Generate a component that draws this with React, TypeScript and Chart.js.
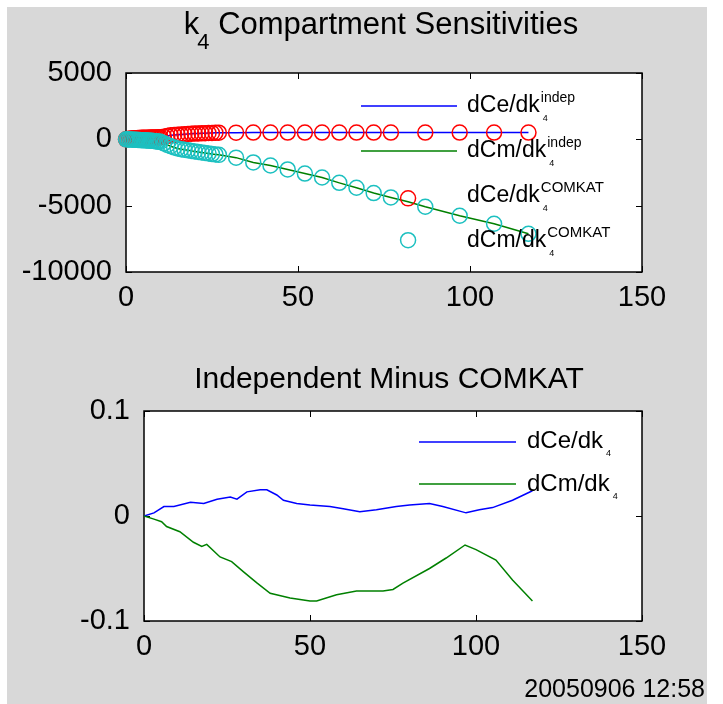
import React, { useEffect, useRef } from "react";
import { Chart, registerables } from "chart.js";

Chart.register(...registerables);

const FONT = '"Liberation Sans", Arial, Helvetica, sans-serif';

// ---------- Top chart data (k4 compartment sensitivities) ----------
const sampleTimes = [
  0, 0.5, 1, 1.5, 2, 2.5, 3, 3.5, 4, 4.5, 5, 5.5, 6, 6.5, 7, 7.5, 8, 8.5, 9, 9.5,
  10, 11, 12, 13, 14, 15, 16, 17, 18, 19, 20, 21, 22, 23, 24, 25, 26, 27,
  32, 37, 42, 47, 52, 57, 62, 67, 72, 77, 82, 87, 97, 107, 117,
];
const dCeIndep = [
  0, 20, 40, 55, 70, 80, 90, 100, 105, 110, 115, 120, 125, 128, 130, 133, 136, 140, 145, 150,
  155, 200, 250, 300, 330, 350, 370, 390, 410, 425, 435, 445, 455, 465, 475, 480, 490, 500,
  505, 508, 510, 510, 510, 510, 510, 510, 510, 510, 510, 510, 510, 510, 510,
];
const dCmIndep = [
  0, -5, -10, -18, -25, -33, -40, -48, -55, -63, -70, -78, -86, -95, -105, -115, -125, -140, -155, -170,
  -190, -300, -420, -520, -610, -690, -740, -790, -830, -870, -910, -950, -990, -1030, -1070, -1110, -1140, -1170,
  -1380, -1740, -1970, -2270, -2580, -2880, -3280, -3650, -4050, -4380, -4700, -5080, -5760, -6360, -7120,
];
const dCeComkat = [
  0, 20, 40, 55, 70, 80, 90, 100, 105, 110, 115, 120, 125, 128, 130, 133, 136, 140, 145, 150,
  155, 200, 250, 300, 330, 350, 370, 390, 410, 425, 435, 445, 455, 465, 475, 480, 490, 500,
  505, 508, 510, 510, 510, 510, 510, 510, 510, 510, -4450, 510, 510, 510, 510,
];
const dCmComkat = [
  0, -5, -10, -18, -25, -33, -40, -48, -55, -63, -70, -78, -86, -95, -105, -115, -125, -140, -155, -170,
  -190, -300, -420, -520, -610, -690, -740, -790, -830, -870, -910, -950, -990, -1030, -1070, -1110, -1140, -1170,
  -1380, -1740, -1970, -2270, -2580, -2880, -3280, -3650, -4050, -4380, -7600, -5080, -5760, -6360, -7120,
];
const topXTicks = [0, 50, 100, 150];
const topYTicks = [-10000, -5000, 0, 5000];

// ---------- Bottom chart data (Independent minus COMKAT) ----------
const diffCeTimes = [0, 3, 6, 9, 14, 18, 22, 26, 28, 31, 35, 37, 40, 42, 46, 50, 56, 60, 65, 70, 76, 80, 86, 90, 97, 101, 105, 111, 117];
const diffCe = [0, 0.003, 0.009, 0.009, 0.013, 0.012, 0.016, 0.018, 0.016, 0.023, 0.025, 0.025, 0.02, 0.015, 0.012, 0.0105, 0.009, 0.007, 0.004, 0.006, 0.009, 0.0105, 0.012, 0.009, 0.003, 0.006, 0.008, 0.015, 0.024];
const diffCmTimes = [0, 3, 5.3, 6.8, 10.8, 14.9, 17.4, 18.9, 22.9, 26.4, 29.9, 33.9, 38, 44, 50, 52, 58, 64, 72, 75, 78, 86, 91, 96.7, 100, 106, 111, 117];
const diffCm = [0, -0.003, -0.0054, -0.010, -0.015, -0.025, -0.029, -0.027, -0.039, -0.0435, -0.053, -0.0635, -0.0736, -0.078, -0.081, -0.081, -0.075, -0.0714, -0.0714, -0.070, -0.064, -0.050, -0.040, -0.0276, -0.032, -0.042, -0.061, -0.081];
const bottomXTicks = [0, 50, 100, 150];
const bottomYTicks = [-0.1, 0, 0.1];

const timestamp = "20050906 12:58";

const toPoints = (xs: number[], ys: number[]) => xs.map((x, i) => ({ x, y: ys[i] }));

function drawRich(
  ctx: CanvasRenderingContext2D,
  x: number,
  y: number,
  base: string,
  baseSize: number,
  sub: string,
  subSize: number,
  sup: string,
  supSize: number
) {
  ctx.save();
  ctx.fillStyle = "#000";
  ctx.textBaseline = "middle";
  ctx.textAlign = "left";
  ctx.font = `${baseSize}px ${FONT}`;
  ctx.fillText(base, x, y);
  const w = ctx.measureText(base).width;
  if (sup) {
    ctx.font = `${supSize}px ${FONT}`;
    ctx.fillText(sup, x + w + 1, y - 8);
  }
  if (sub) {
    ctx.font = `${subSize}px ${FONT}`;
    ctx.fillText(sub, x + w + 3, y + 13);
  }
  ctx.restore();
}

function axesBoxPlugin(id: string) {
  return {
    id,
    beforeDraw(chart: any) {
      const { ctx, chartArea: a } = chart;
      ctx.save();
      ctx.fillStyle = "#ffffff";
      ctx.fillRect(a.left, a.top, a.right - a.left, a.bottom - a.top);
      ctx.restore();
    },
    beforeDatasetsDraw(chart: any) {
      const { ctx, chartArea: a, scales } = chart;
      ctx.save();
      ctx.strokeStyle = "#000";
      ctx.lineWidth = 1.5;
      ctx.strokeRect(a.left, a.top, a.right - a.left, a.bottom - a.top);
      const tl = 6;
      ctx.lineWidth = 1;
      ctx.beginPath();
      scales.x.ticks.forEach((t: any) => {
        const px = Math.round(scales.x.getPixelForValue(t.value)) + 0.5;
        ctx.moveTo(px, a.bottom);
        ctx.lineTo(px, a.bottom - tl);
        ctx.moveTo(px, a.top);
        ctx.lineTo(px, a.top + tl);
      });
      scales.y.ticks.forEach((t: any) => {
        const py = Math.round(scales.y.getPixelForValue(t.value)) + 0.5;
        ctx.moveTo(a.left, py);
        ctx.lineTo(a.left + tl, py);
        ctx.moveTo(a.right, py);
        ctx.lineTo(a.right - tl, py);
      });
      ctx.stroke();
      ctx.restore();
    },
  };
}

const tickFont = { family: FONT, size: 29 };
const fmt = (v: any) => String(Number(Number(v).toFixed(4)));

function makeScales(xTicks: number[], yTicks: number[], yWidth: number) {
  return {
    x: {
      type: "linear" as const,
      min: xTicks[0],
      max: xTicks[xTicks.length - 1],
      afterBuildTicks: (s: any) => {
        s.ticks = xTicks.map((v) => ({ value: v }));
      },
      afterFit: (s: any) => {
        s.height = 40;
      },
      grid: { display: false, drawTicks: false },
      border: { display: false },
      ticks: { color: "#000", font: tickFont, padding: 9, maxRotation: 0, callback: fmt },
    },
    y: {
      type: "linear" as const,
      min: yTicks[0],
      max: yTicks[yTicks.length - 1],
      afterBuildTicks: (s: any) => {
        s.ticks = yTicks.map((v) => ({ value: v }));
      },
      afterFit: (s: any) => {
        s.width = yWidth;
      },
      grid: { display: false, drawTicks: false },
      border: { display: false },
      ticks: { color: "#000", font: tickFont, padding: 14, callback: fmt },
    },
  };
}

export default function App() {
  const topRef = useRef<HTMLCanvasElement>(null);
  const botRef = useRef<HTMLCanvasElement>(null);

  useEffect(() => {
    const topDecor = {
      id: "topDecor",
      afterDraw(chart: any) {
        const { ctx, chartArea: a } = chart;
        // title
        ctx.save();
        ctx.fillStyle = "#000";
        ctx.textBaseline = "alphabetic";
        ctx.textAlign = "left";
        ctx.font = `31px ${FONT}`;
        const kW = ctx.measureText("k").width;
        const rest = " Compartment Sensitivities";
        const rW = ctx.measureText(rest).width;
        ctx.font = `22px ${FONT}`;
        const sW = ctx.measureText("4").width;
        const total = kW + sW - 2 + rW;
        const x0 = (a.left + a.right) / 2 - 3 - total / 2;
        const base = 27;
        ctx.font = `31px ${FONT}`;
        ctx.fillText("k", x0, base);
        ctx.font = `22px ${FONT}`;
        ctx.fillText("4", x0 + kW - 2, base + 15);
        ctx.font = `31px ${FONT}`;
        ctx.fillText(rest, x0 + kW + sW - 2, base);
        // legend
        const lx0 = a.left + 235;
        const lx1 = a.left + 331;
        const tx = a.left + 341;
        ctx.lineWidth = 1.5;
        ctx.strokeStyle = "#0000ff";
        ctx.beginPath();
        ctx.moveTo(lx0, a.top + 33);
        ctx.lineTo(lx1, a.top + 33);
        ctx.stroke();
        ctx.strokeStyle = "#008000";
        ctx.beginPath();
        ctx.moveTo(lx0, a.top + 78);
        ctx.lineTo(lx1, a.top + 78);
        ctx.stroke();
        ctx.restore();
        drawRich(ctx, tx, a.top + 33, "dCe/dk", 23, "4", 9, "indep", 14);
        drawRich(ctx, tx, a.top + 78, "dCm/dk", 23, "4", 9, "indep", 14);
        drawRich(ctx, tx, a.top + 123, "dCe/dk", 23, "4", 9, "COMKAT", 15);
        drawRich(ctx, tx, a.top + 168, "dCm/dk", 23, "4", 9, "COMKAT", 15);
      },
    };

    const botDecor = {
      id: "botDecor",
      afterDraw(chart: any) {
        const { ctx, chartArea: a, width } = chart;
        ctx.save();
        ctx.fillStyle = "#000";
        ctx.textBaseline = "alphabetic";
        ctx.textAlign = "center";
        ctx.font = `30px ${FONT}`;
        ctx.fillText("Independent Minus COMKAT", (a.left + a.right) / 2 - 4, 48);
        // legend
        const lx0 = a.left + 275;
        const lx1 = a.left + 372;
        const tx = a.left + 383;
        ctx.lineWidth = 1.5;
        ctx.strokeStyle = "#0000ff";
        ctx.beginPath();
        ctx.moveTo(lx0, a.top + 31);
        ctx.lineTo(lx1, a.top + 31);
        ctx.stroke();
        ctx.strokeStyle = "#008000";
        ctx.beginPath();
        ctx.moveTo(lx0, a.top + 73);
        ctx.lineTo(lx1, a.top + 73);
        ctx.stroke();
        // timestamp
        ctx.textAlign = "right";
        ctx.textBaseline = "middle";
        ctx.font = `25px ${FONT}`;
        ctx.fillText(timestamp, width - 2, 350);
        ctx.restore();
        drawRich(ctx, tx, a.top + 30, "dCe/dk", 24, "4", 9, "", 14);
        drawRich(ctx, tx, a.top + 73, "dCm/dk", 24, "4", 9, "", 14);
      },
    };

    const top = new Chart(topRef.current!, {
      type: "scatter",
      data: {
        datasets: [
          {
            label: "dCe/dk4 indep",
            data: toPoints(sampleTimes, dCeIndep),
            showLine: true,
            borderColor: "#0000ff",
            borderWidth: 1.5,
            pointRadius: 0,
            order: 4,
          },
          {
            label: "dCm/dk4 indep",
            data: toPoints(sampleTimes, dCmIndep),
            showLine: true,
            borderColor: "#008000",
            borderWidth: 1.5,
            pointRadius: 0,
            order: 3,
          },
          {
            label: "dCe/dk4 COMKAT",
            data: toPoints(sampleTimes, dCeComkat),
            showLine: false,
            pointRadius: 7.5,
            pointBorderWidth: 1.5,
            pointBorderColor: "#ff0000",
            pointBackgroundColor: "rgba(0,0,0,0)",
            clip: false as any,
            order: 2,
          },
          {
            label: "dCm/dk4 COMKAT",
            data: toPoints(sampleTimes, dCmComkat),
            showLine: false,
            pointRadius: 7.5,
            pointBorderWidth: 1.5,
            pointBorderColor: "#1cc0c0",
            pointBackgroundColor: "rgba(0,0,0,0)",
            clip: false as any,
            order: 1,
          },
        ],
      },
      options: {
        responsive: false,
        animation: false,
        devicePixelRatio: 1,
        layout: { padding: { left: 0, top: 66, right: 65, bottom: 28 } },
        plugins: { legend: { display: false }, tooltip: { enabled: false }, title: { display: false } },
        scales: makeScales(topXTicks, topYTicks, 119) as any,
      },
      plugins: [axesBoxPlugin("topBox"), topDecor],
    });

    const bot = new Chart(botRef.current!, {
      type: "scatter",
      data: {
        datasets: [
          {
            label: "dCe/dk4",
            data: toPoints(diffCeTimes, diffCe),
            showLine: true,
            borderColor: "#0000ff",
            borderWidth: 1.5,
            pointRadius: 0,
            order: 2,
          },
          {
            label: "dCm/dk4",
            data: toPoints(diffCmTimes, diffCm),
            showLine: true,
            borderColor: "#008000",
            borderWidth: 1.5,
            pointRadius: 0,
            order: 1,
          },
        ],
      },
      options: {
        responsive: false,
        animation: false,
        devicePixelRatio: 1,
        layout: { padding: { left: 0, top: 71, right: 65, bottom: 43 } },
        plugins: { legend: { display: false }, tooltip: { enabled: false }, title: { display: false } },
        scales: makeScales(bottomXTicks, bottomYTicks, 137) as any,
      },
      plugins: [axesBoxPlugin("botBox"), botDecor],
    });

    return () => {
      top.destroy();
      bot.destroy();
    };
  }, []);

  return (
    <div style={{ position: "absolute", left: 0, top: 0, width: 723, height: 704, background: "#ffffff", overflow: "hidden" }}>
      <div style={{ position: "absolute", left: 7, top: 7, width: 700, height: 697, background: "#d8d8d8" }} />
      <canvas ref={topRef} width={700} height={333} style={{ position: "absolute", left: 7, top: 7, width: 700, height: 333 }} />
      <canvas ref={botRef} width={700} height={364} style={{ position: "absolute", left: 7, top: 340, width: 700, height: 364 }} />
    </div>
  );
}
